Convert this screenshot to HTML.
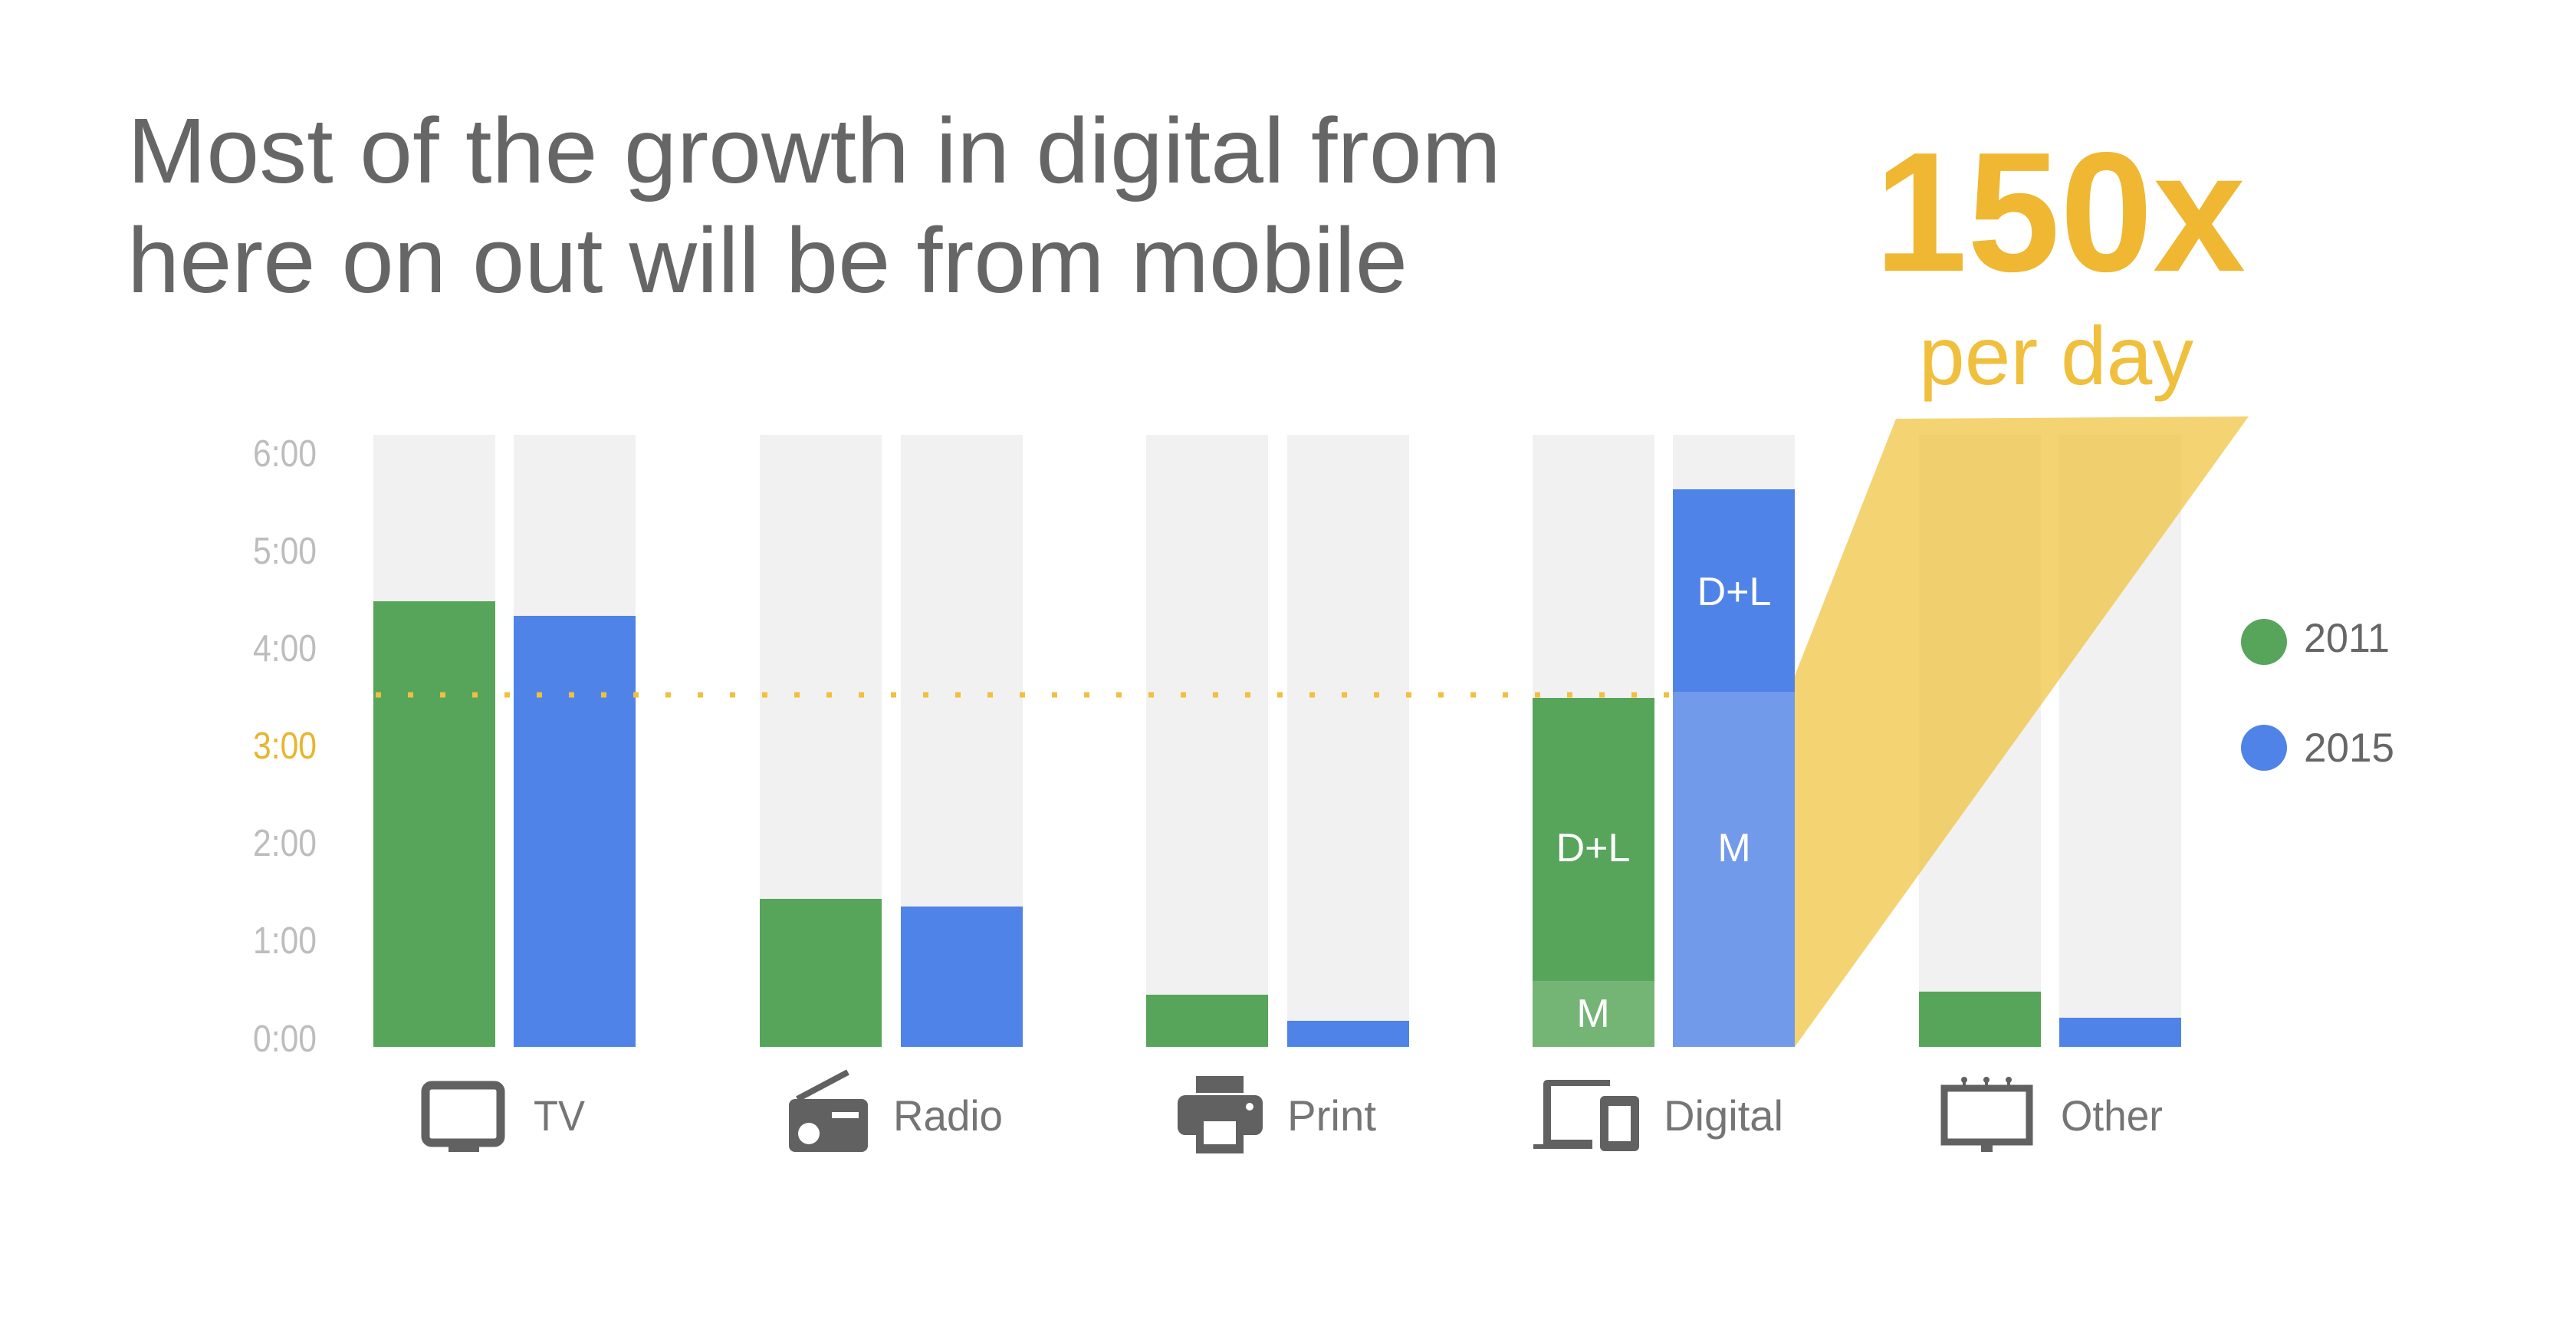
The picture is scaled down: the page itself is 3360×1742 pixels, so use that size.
<!DOCTYPE html>
<html><head><meta charset="utf-8"><style>
html,body{margin:0;padding:0;background:#fff;}
svg{display:block;}
text{font-family:"Liberation Sans",sans-serif;}
</style></head><body>
<svg width="3360" height="1742" viewBox="0 0 3360 1742" xmlns="http://www.w3.org/2000/svg">
<rect width="3360" height="1742" fill="#fff"/>
<!-- Title -->
<text x="166" y="238" font-size="121" fill="#666" textLength="1792" lengthAdjust="spacingAndGlyphs">Most of the growth in digital from</text>
<text x="166" y="381" font-size="121" fill="#666" textLength="1670" lengthAdjust="spacingAndGlyphs">here on out will be from mobile</text>
<!-- 150x -->
<text x="2445" y="353" font-size="222" font-weight="bold" fill="#efb732" textLength="484" lengthAdjust="spacingAndGlyphs">150x</text>
<text x="2503" y="501" font-size="108" fill="#f0bf3c" textLength="358" lengthAdjust="spacingAndGlyphs">per day</text>
<!-- y labels -->
<g font-size="49" fill="#bdbdbd" font-family="Liberation Sans Narrow, Liberation Sans, sans-serif">
<text x="330" y="608" textLength="83" lengthAdjust="spacingAndGlyphs">6:00</text>
<text x="330" y="735" textLength="83" lengthAdjust="spacingAndGlyphs">5:00</text>
<text x="330" y="862" textLength="83" lengthAdjust="spacingAndGlyphs">4:00</text>
<text x="330" y="989" textLength="83" lengthAdjust="spacingAndGlyphs" fill="#e8b52e">3:00</text>
<text x="330" y="1116" textLength="83" lengthAdjust="spacingAndGlyphs">2:00</text>
<text x="330" y="1243" textLength="83" lengthAdjust="spacingAndGlyphs">1:00</text>
<text x="330" y="1371" textLength="83" lengthAdjust="spacingAndGlyphs">0:00</text>
</g>
<!-- background bars -->
<g fill="#f1f1f1">
<rect x="487" y="567" width="159" height="798"/><rect x="670" y="567" width="159" height="798"/>
<rect x="991" y="567" width="159" height="798"/><rect x="1175" y="567" width="159" height="798"/>
<rect x="1495" y="567" width="159" height="798"/><rect x="1679" y="567" width="159" height="798"/>
<rect x="1999" y="567" width="159" height="798"/><rect x="2182" y="567" width="159" height="798"/>
<rect x="2503" y="567" width="159" height="798"/><rect x="2686" y="567" width="159" height="798"/>
</g>
<!-- data bars -->
<rect x="487" y="784" width="159" height="581" fill="#57a55a"/>
<rect x="670" y="803" width="159" height="562" fill="#5083e8"/>
<rect x="991" y="1172" width="159" height="193" fill="#57a55a"/>
<rect x="1175" y="1182" width="159" height="183" fill="#5083e8"/>
<rect x="1495" y="1297" width="159" height="68" fill="#57a55a"/>
<rect x="1679" y="1331" width="159" height="34" fill="#5083e8"/>
<rect x="2503" y="1293" width="159" height="72" fill="#57a55a"/>
<rect x="2686" y="1327" width="159" height="38" fill="#5083e8"/>
<!-- digital -->
<rect x="1999" y="910" width="159" height="369" fill="#57a55a"/>
<rect x="1999" y="1279" width="159" height="86" fill="#74b576"/>
<rect x="2182" y="638" width="159" height="264" fill="#5083e8"/>
<rect x="2182" y="902" width="159" height="463" fill="#729aea"/>
<g font-size="52" fill="#fff" text-anchor="middle">
<text x="2078" y="1123">D+L</text>
<text x="2078" y="1339">M</text>
<text x="2262" y="789">D+L</text>
<text x="2262" y="1123">M</text>
</g>
<!-- dotted line -->
<line x1="490" y1="906" x2="2182" y2="906" stroke="#f0c040" stroke-width="7" stroke-dasharray="7 35"/>
<!-- yellow wedge -->
<polygon points="2473,546 2933,543 2341,1365 2341,881" fill="#f0c43c" fill-opacity="0.72"/>
<!-- legend -->
<circle cx="2953" cy="837" r="30" fill="#57a55a"/>
<circle cx="2953" cy="975" r="30" fill="#5083e8"/>
<g font-size="53" fill="#666">
<text x="3005" y="850" textLength="112" lengthAdjust="spacingAndGlyphs">2011</text>
<text x="3005" y="993" textLength="118" lengthAdjust="spacingAndGlyphs">2015</text>
</g>
<!-- category labels -->
<g font-size="56" fill="#757575">
<text x="696" y="1474" textLength="67" lengthAdjust="spacingAndGlyphs">TV</text>
<text x="1165" y="1474" textLength="143" lengthAdjust="spacingAndGlyphs">Radio</text>
<text x="1679" y="1474" textLength="116" lengthAdjust="spacingAndGlyphs">Print</text>
<text x="2170" y="1474" textLength="156" lengthAdjust="spacingAndGlyphs">Digital</text>
<text x="2688" y="1474" textLength="133" lengthAdjust="spacingAndGlyphs">Other</text>
</g>
<!-- icons -->
<g fill="#616161" stroke="none">
<!-- TV -->
<rect x="555" y="1415" width="98" height="75" rx="8" fill="none" stroke="#616161" stroke-width="11"/>
<rect x="585" y="1490" width="40" height="12"/>
<!-- Radio -->
<rect x="1029" y="1433" width="103" height="69" rx="8"/>
<line x1="1040" y1="1433" x2="1106" y2="1398" stroke="#616161" stroke-width="8"/>
<circle cx="1055" cy="1478" r="14" fill="#fff"/>
<rect x="1085" y="1450" width="35" height="8" fill="#fff"/>
<!-- Print -->
<rect x="1560" y="1403" width="62" height="22"/>
<rect x="1536" y="1428" width="111" height="52" rx="10"/>
<rect x="1560" y="1462" width="62" height="42"/>
<rect x="1570" y="1462" width="42" height="30" fill="#fff"/>
<circle cx="1630" cy="1443" r="5" fill="#fff"/>
<!-- Digital -->
<path d="M2013,1492 V1414 Q2013,1408 2019,1408 H2100 V1416 H2023 V1486 H2077 V1498 H2000 V1492 Z"/>
<rect x="2087" y="1429" width="51" height="72" rx="6"/>
<rect x="2098" y="1442" width="29" height="46" fill="#fff"/>
<!-- Other -->
<rect x="2536" y="1419" width="111" height="70" fill="none" stroke="#616161" stroke-width="9"/>
<rect x="2584" y="1489" width="15" height="13"/>
<rect x="2560" y="1407" width="4" height="12"/><rect x="2589" y="1407" width="4" height="12"/><rect x="2618" y="1407" width="4" height="12"/>
<circle cx="2562" cy="1408" r="4"/><circle cx="2591" cy="1408" r="4"/><circle cx="2620" cy="1408" r="4"/>
</g>
</svg>
</body></html>
